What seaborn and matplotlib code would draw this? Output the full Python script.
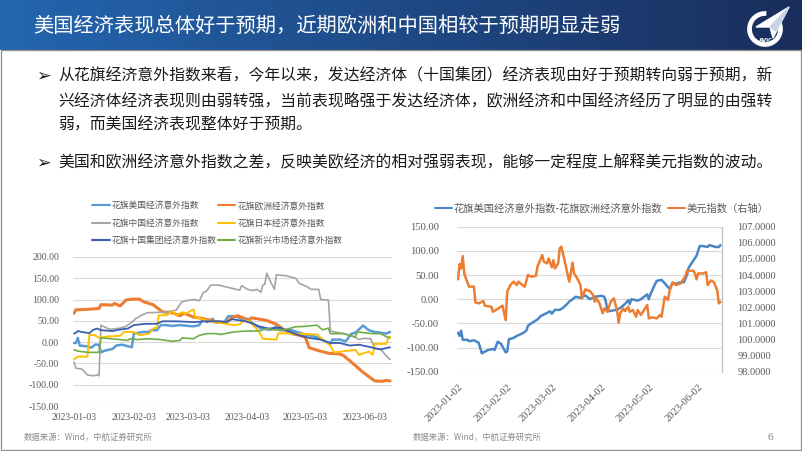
import numpy as np
import pandas as pd
import matplotlib
matplotlib.use("Agg")
import matplotlib.pyplot as plt
import seaborn as sns
from matplotlib.patches import Arc, Polygon, Rectangle

# ---------------- data ----------------
title = "美国经济表现总体好于预期，近期欧洲和中国相较于预期明显走弱"
bullet_lines = [
    "从花旗经济意外指数来看，今年以来，发达经济体（十国集团）经济表现由好于预期转向弱于预期，新",
    "兴经济体经济表现则由弱转强，当前表现略强于发达经济体，欧洲经济和中国经济经历了明显的由强转",
    "弱，而美国经济表现整体好于预期。",
    "美国和欧洲经济意外指数之差，反映美欧经济的相对强弱表现，能够一定程度上解释美元指数的波动。",
]
source_text = "数据来源：Wind，中航证券研究所"
page_no = "6"

left_start = "2023-01-03"
left_names = ["花旗美国经济意外指数", "花旗欧洲经济意外指数", "花旗中国经济意外指数",
              "花旗日本经济意外指数", "花旗十国集团经济意外指数", "花旗新兴市场经济意外指数"]

us_day = [0, 1, 2, 3, 7, 9, 11, 13, 14, 16, 20, 22, 25, 30, 31, 36, 39, 40, 43, 45, 48, 51, 55, 62, 65, 67, 69,
          72, 73, 78, 80, 84, 87, 90, 93, 97, 102, 105, 107, 113, 117, 120, 125, 127, 131, 133, 134, 138, 141,
          144, 146, 150, 153, 156, 162, 164]
us_val = [-2, -2, 10, -8, -10, -13, -6, -6, -24, -20, -16, -8, -6, -12, 20, 24, 24, 28, 28, 40, 40, 38, 40, 37, 40,
          55, 47, 55, 47, 47, 61, 61, 55, 55, 43, 32, 29, 37, 28, 28, 22, 18, 13, 10, 0, -4, 6, 6, 2, 20, 22, 39,
          28, 24, 20, 24]

eu_day = [0, 1, 7, 13, 14, 20, 21, 24, 27, 30, 34, 36, 41, 46, 51, 55, 57, 62, 66, 70, 74, 79, 82, 85, 88, 90, 92,
          95, 100, 105, 108, 113, 117, 120, 122, 127, 132, 138, 140, 145, 150, 153, 156, 160, 162, 164]
eu_val = [68, 76, 77, 79, 88, 87, 91, 85, 99, 101, 101, 95, 88, 71, 69, 62, 68, 59, 56, 52, 47, 46, 58, 62, 57, 49,
          57, 55, 51, 42, 32, 20, 16, 12, -13, -20, -26, -28, -32, -51, -71, -81, -91, -92, -90, -91]

cn_day = [0, 1, 4, 7, 10, 12, 13, 14, 17, 19, 24, 27, 30, 32, 35, 38, 44, 48, 53, 56, 60, 63, 65, 67, 69, 71, 75,
          86, 87, 90, 93, 95, 97, 98, 99, 100, 102, 104, 105, 110, 115, 117, 121, 123, 127, 128, 132, 133, 134,
          140, 145, 148, 150, 154, 156, 159, 162, 164]
cn_val = [-47, -61, -63, -77, -79, -77, -79, 40, 33, 30, 33, 37, 47, 55, 63, 69, 70, 71, 75, 95, 99, 100, 97, 116,
          121, 134, 134, 122, 133, 124, 121, 124, 117, 134, 136, 162, 142, 124, 158, 156, 150, 138, 130, 124, 124,
          100, 99, 28, 25, 20, 13, 6, 9, 8, -16, -16, -32, -41]

jp_day = [0, 2, 7, 8, 11, 13, 17, 24, 26, 31, 34, 39, 41, 43, 44, 48, 51, 53, 56, 58, 62, 63, 69, 73, 76, 83, 86,
          88, 91, 96, 98, 105, 106, 113, 126, 133, 135, 146, 148, 153, 155, 156, 162, 163, 164]
jp_val = [-40, -34, -34, 17, 16, 10, 13, 15, 24, 24, 16, 20, 32, 34, 63, 63, 73, 63, 70, 67, 77, 59, 51, 47, 45, 40,
          42, 51, 49, 25, 8, 6, 21, 20, 18, -8, -24, -18, -30, -22, -30, -4, -4, 9, 13]

g10_day = [0, 1, 2, 4, 8, 10, 12, 14, 20, 23, 28, 31, 37, 43, 46, 53, 62, 69, 76, 79, 82, 89, 93, 96, 101, 107,
           110, 117, 122, 128, 133, 138, 143, 148, 155, 159, 162, 164]
g10_val = [20, 22, 26, 24, 21, 29, 32, 28, 26, 29, 32, 40, 43, 43, 49, 49, 47, 49, 49, 47, 54, 49, 43, 37, 32, 34,
           28, 16, 10, 6, -2, -2, -8, -6, -13, -17, -14, -12]

em_day = [0, 2, 7, 13, 14, 19, 24, 28, 29, 33, 38, 45, 51, 55, 56, 62, 65, 69, 74, 76, 83, 89, 96, 100, 105, 110,
          115, 120, 126, 129, 132, 133, 140, 146, 147, 155, 159, 162, 164]
em_val = [-18, -21, -24, -24, 10, 8, 6, 4, 8, 6, 8, 6, 2, 4, 10, 8, 16, 20, 20, 18, 24, 26, 26, 32, 28, 30, 36, 37,
          40, 29, 33, 20, 20, 12, 24, 20, 20, 13, 10]

left_days = [us_day, eu_day, cn_day, jp_day, g10_day, em_day]
left_vals = [us_val, eu_val, cn_val, jp_val, g10_val, em_val]
left_colors = ["#5B9BD5", "#ED7D31", "#A5A5A5", "#FFC000", "#3A5FAE", "#70AD47"]
left_widths = [1.8, 2.2, 1.2, 1.4, 1.3, 1.2]
left_yticks = [-150, -100, -50, 0, 50, 100, 150, 200]
left_xticks = ["2023-01-03", "2023-02-03", "2023-03-03", "2023-04-03", "2023-05-03", "2023-06-03"]

right_start = "2023-01-02"
right_names = ["花旗美国经济意外指数-花旗欧洲经济意外指数", "美元指数（右轴）"]
diff_day = [0, 1, 2, 3, 6, 7, 10, 13, 15, 16, 19, 22, 23, 25, 27, 30, 31, 32, 35, 37, 41, 43, 44, 46, 50, 52, 55,
            58, 59, 61, 64, 66, 68, 70, 72, 74, 77, 80, 83, 86, 90, 92, 93, 94, 100, 102, 105, 107, 108, 109, 113,
            115, 117, 119, 120, 121, 123, 125, 128, 130, 132, 133, 135, 137, 140, 142, 144, 145, 147, 149, 150,
            151, 152, 154, 157, 158, 160, 162, 164, 165]
diff_val = [-69, -76, -65, -84, -84, -87, -85, -90, -112, -110, -105, -103, -105, -88, -92, -110, -108, -83, -80,
            -76, -70, -65, -55, -50, -42, -35, -30, -25, -30, -22, -22, -18, -12, -5, 0, 5, 3, 8, 0, 5, 7, 5, -5,
            -25, -22, -18, -10, -2, -10, 0, -3, 0, 5, 10, 0, 10, 25, 38, 40, 33, 25, 22, 33, 32, 35, 35, 50, 65, 75,
            85, 90, 100, 110, 110, 108, 112, 110, 108, 108, 112]
dxy_day = [0, 1, 2, 3, 4, 5, 7, 10, 11, 13, 16, 17, 21, 22, 25, 28, 30, 31, 33, 35, 37, 38, 40, 42, 44, 46, 49, 50,
           53, 54, 56, 57, 59, 60, 61, 63, 64, 65, 67, 69, 70, 72, 73, 75, 77, 78, 80, 83, 85, 86, 87, 89, 91, 92,
           94, 96, 98, 100, 101, 102, 104, 105, 107, 108, 110, 112, 113, 115, 117, 119, 120, 122, 125, 127, 128,
           130, 132, 133, 134, 135, 137, 140, 143, 144, 148, 149, 150, 151, 154, 156, 157, 159, 161, 163, 164, 165]
dxy_val = [103.73, 104.68, 104.40, 105.18, 104.10, 103.79, 103.28, 103.28, 102.30, 102.24, 102.38, 102.09, 102.03,
           101.72, 101.90, 102.10, 101.20, 102.97, 103.38, 103.59, 103.38, 103.59, 103.42, 103.28, 104.00, 103.90,
           103.94, 104.52, 105.24, 104.83, 104.72, 105.03, 104.48, 104.93, 104.41, 104.72, 105.66, 105.76, 104.93,
           104.00, 103.59, 104.77, 104.10, 103.79, 103.38, 102.55, 103.11, 103.00, 102.76, 102.34, 102.55, 102.24,
           101.62, 101.93, 101.72, 102.34, 102.55, 101.83, 101.04, 101.62, 101.93, 101.76, 102.03, 101.72, 101.83,
           101.41, 101.83, 101.52, 101.83, 102.14, 101.31, 101.37, 101.31, 101.52, 101.41, 102.66, 102.45, 102.97,
           103.28, 103.55, 103.38, 103.48, 103.93, 104.27, 104.27, 104.10, 103.73, 104.10, 104.10, 104.17, 103.38,
           103.66, 103.55, 103.04, 102.24, 102.34]
right_colors = ["#4A86C6", "#ED7D31"]
right_yticks = [-150, -100, -50, 0, 50, 100, 150]
right_y2ticks = [98, 99, 100, 101, 102, 103, 104, 105, 106, 107]
right_xticks = ["2023-01-02", "2023-02-02", "2023-03-02", "2023-04-02", "2023-05-02", "2023-06-02"]

# ---------------- figure ----------------
sns.set_theme(style="white")
plt.rcParams['font.family'] = ['Noto Sans CJK SC', 'DejaVu Sans']
plt.rcParams['axes.unicode_minus'] = False

W, H = 802, 451
fig = plt.figure(figsize=(W / 100, H / 100), dpi=100)
bg = fig.add_axes([0, 0, 1, 1])
bg.axis('off')

g = np.linspace(0, 1, 400)
c0 = np.array([0.14, 0.40, 0.69])
c1 = np.array([0.10, 0.18, 0.36])
grad = c0[None, :] * (1 - g[:, None]) + c1[None, :] * g[:, None]
bg.imshow(grad[None, :, :], extent=[0, W, 50, 0], aspect='auto', zorder=0)
bg.set_xlim(0, W)
bg.set_ylim(H, 0)
bg.add_patch(Rectangle((1, 50), W - 2.5, H - 51.5, fill=False, edgecolor='#8c8c8c', lw=0.9))

bg.text(33, 26, title, color='white', fontsize=14.6, va='center', ha='left')

# logo
bg.add_patch(Arc((765, 29), 31, 31, theta1=-25, theta2=275, color='white', lw=3.4))
bg.add_patch(Polygon([(789, 7), (756, 27), (770, 27), (773, 38)], closed=True, color='white'))
bg.add_patch(Polygon([(789, 7), (770, 27), (776, 31)], closed=True, color='#c9d3e6'))
bg.text(766, 41, "AVIC", color='white', fontsize=4, fontweight='bold', ha='center', va='center',
        family=['DejaVu Sans'])

line_y = [76, 101, 125, 163]
for i, (t, y) in enumerate(zip(bullet_lines, line_y)):
    if i in (0, 3):
        bg.text(36, y, "➢", fontsize=12.5, va='center', ha='left', color='#1a1a1a', family=['DejaVu Sans'])
    bg.text(58, y, t, fontsize=11.4, va='center', ha='left', color='#1a1a1a')

bg.text(24, 437, source_text, fontsize=6, color='#8c8c8c', va='center', ha='left')
bg.text(413, 437, source_text, fontsize=6, color='#8c8c8c', va='center', ha='left')
bg.text(770, 437, page_no, fontsize=8, color='#7f7f7f', va='center', ha='center', family=['Liberation Serif'])

tick_font = dict(family='Liberation Serif', color='#595959')

# ---------------- left chart ----------------
axL = fig.add_axes([73 / W, 1 - 406 / H, (392 - 73) / W, (406 - 257) / H])
axL.patch.set_alpha(0)
t0 = pd.Timestamp(left_start)
for name, d, v, c, lw in zip(left_names, left_days, left_vals, left_colors, left_widths):
    dates = t0 + pd.to_timedelta(d, unit='D')
    sns.lineplot(x=dates, y=v, ax=axL, color=c, linewidth=lw, label=name, estimator=None, sort=False)
if axL.get_legend() is not None:
    axL.get_legend().remove()
axL.set_xlim(t0 - pd.Timedelta(days=0.5), t0 + pd.Timedelta(days=165))
axL.set_ylim(-150, 200)
axL.set_yticks(left_yticks)
axL.set_yticklabels([f"{v:.2f}" for v in left_yticks], fontsize=7.1, **tick_font)
axL.set_xticks(pd.to_datetime(left_xticks))
axL.set_xticklabels(left_xticks, fontsize=7, **tick_font)
axL.tick_params(axis='both', length=0)
axL.tick_params(axis='y', pad=10)
axL.tick_params(axis='x', pad=5)
axL.yaxis.grid(True, color='#d9d9d9', lw=0.8)
axL.xaxis.grid(False)
for s in axL.spines.values():
    s.set_visible(False)
axL.set_xlabel("")
axL.set_ylabel("")

hl = axL.get_lines()[:6]
order = [0, 2, 4, 1, 3, 5]
legL = fig.legend([hl[i] for i in order], [left_names[i] for i in order], ncol=2, loc='upper left',
                  bbox_to_anchor=(88 / W, 1 - 197 / H), frameon=False, fontsize=6.3, handlelength=2.0,
                  handletextpad=0.2, columnspacing=0.15, labelspacing=0.95, borderpad=0, labelcolor='#595959')
for ln in legL.get_lines():
    ln.set_linewidth(1.5)

# ---------------- right chart ----------------
axR = fig.add_axes([457 / W, 1 - 371.7 / H, (722 - 457) / W, (371.7 - 226.7) / H])
axR.patch.set_alpha(0)
axR2 = axR.twinx()
r0 = pd.Timestamp(right_start)
sns.lineplot(x=r0 + pd.to_timedelta(diff_day, unit='D'), y=diff_val, ax=axR, color=right_colors[0],
             linewidth=1.8, label=right_names[0], estimator=None, sort=False)
sns.lineplot(x=r0 + pd.to_timedelta(dxy_day, unit='D'), y=dxy_val, ax=axR2, color=right_colors[1],
             linewidth=1.8, label=right_names[1], estimator=None, sort=False)
for a in (axR, axR2):
    if a.get_legend() is not None:
        a.get_legend().remove()
    a.set_xlabel("")
    a.set_ylabel("")
    for s in a.spines.values():
        s.set_visible(False)
axR2.spines['right'].set_visible(True)
axR2.spines['right'].set_color('#bfbfbf')
axR2.spines['right'].set_linewidth(0.9)

axR.set_xlim(r0 - pd.Timedelta(days=0.6), r0 + pd.Timedelta(days=166))
axR.set_ylim(-150, 150)
axR.set_yticks(right_yticks)
axR.set_yticklabels([f"{v:.2f}" for v in right_yticks], fontsize=7.6, **tick_font)
axR2.set_ylim(98, 107)
axR2.set_yticks(right_y2ticks)
axR2.set_yticklabels([f"{v:.4f}" for v in right_y2ticks], fontsize=7.5, **tick_font)
axR.set_xticks(pd.to_datetime(right_xticks))
axR.set_xticklabels(right_xticks, fontsize=7.6, rotation=45, ha='right', rotation_mode='anchor', **tick_font)
axR.tick_params(axis='both', length=0)
axR2.tick_params(axis='both', length=0)
axR.tick_params(axis='y', pad=13)
axR.tick_params(axis='x', pad=8)
axR2.tick_params(axis='y', pad=11)
axR.yaxis.grid(True, color='#d9d9d9', lw=0.8)
axR.xaxis.grid(False)
axR2.grid(False)

hr = [axR.get_lines()[0], axR2.get_lines()[0]]
legR = fig.legend(hr, right_names, ncol=2, loc='upper left', bbox_to_anchor=(430 / W, 1 - 198 / H),
                  frameon=False, fontsize=7.4, handlelength=1.6, handletextpad=0.2, columnspacing=0.6,
                  borderpad=0, labelcolor='#595959')
for ln in legR.get_lines():
    ln.set_linewidth(1.5)

fig.savefig("out.png", dpi=100)
